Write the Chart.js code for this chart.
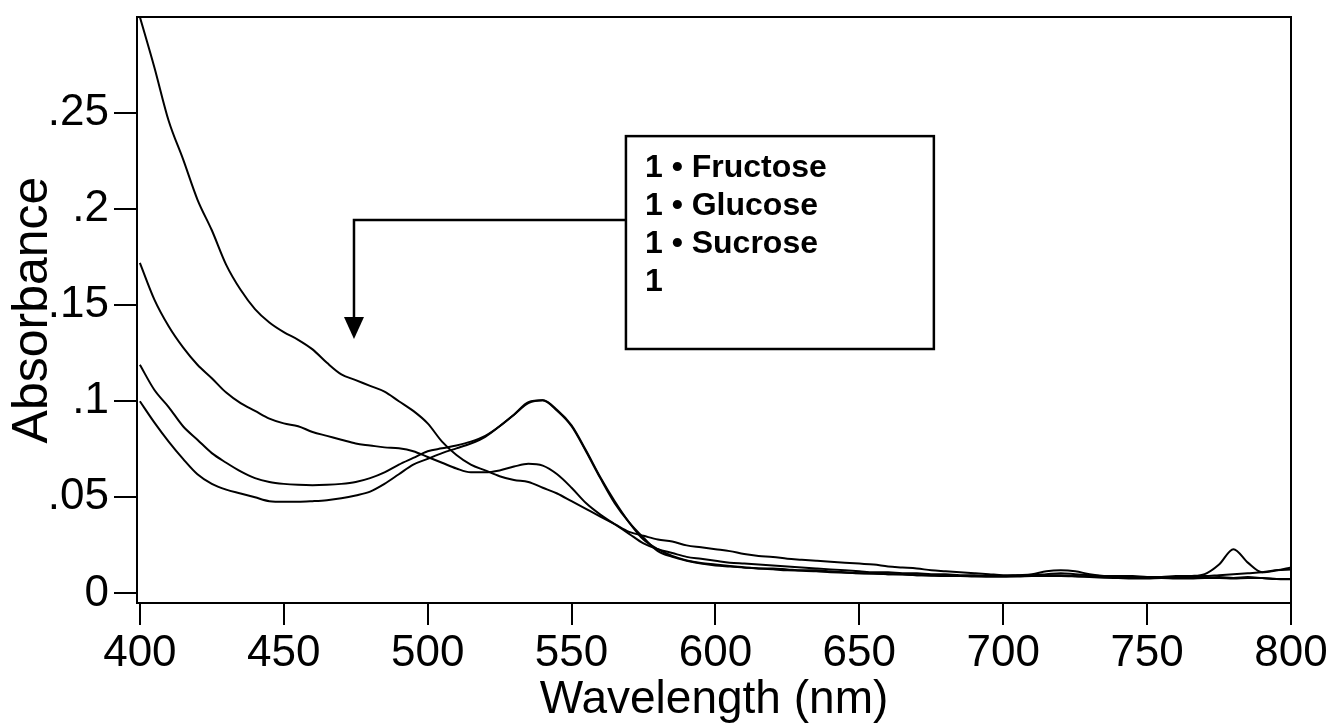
<!DOCTYPE html>
<html>
<head>
<meta charset="utf-8">
<script src="https://cdn.jsdelivr.net/npm/chart.js@4.4.0/dist/chart.umd.min.js"></script>
<style>
html,body{margin:0;padding:0;background:#fff;}
#wrap{width:1331px;height:728px;position:relative;}
</style>
</head>
<body>
<div id="wrap"><canvas id="c" width="1331" height="728"></canvas></div>
<script>
// ---- data ----
const wavelengths = [
  400,405,410,415,420,425,430,435,440,445,
  450,455,460,465,470,475,480,485,490,495,
  500,505,510,515,520,525,530,535,540,545,
  550,555,560,565,570,575,580,585,590,595,
  600,605,610,615,620,625,630,635,640,645,
  650,655,660,665,670,675,680,685,690,695,
  700,705,710,715,720,725,730,735,740,745,
  750,755,760,765,770,775,780,785,790,795,
  800
];
const seriesA = [
  0.300,0.274,0.246,0.226,0.205,0.189,0.171,0.158,0.148,0.141,
  0.136,0.132,0.127,0.120,0.114,0.111,0.108,0.105,0.100,0.095,
  0.0885,0.079,0.072,0.067,0.064,0.061,0.059,0.058,0.055,0.052,
  0.048,0.044,0.040,0.036,0.032,0.030,0.028,0.027,0.025,0.024,
  0.023,0.022,0.0205,0.0195,0.019,0.018,0.0175,0.017,0.0165,0.016,
  0.0155,0.015,0.014,0.0135,0.013,0.012,0.0115,0.011,0.0105,0.010,
  0.0095,0.0095,0.0095,0.010,0.0105,0.010,0.0095,0.009,0.009,0.009,
  0.0085,0.0085,0.009,0.009,0.009,0.0095,0.010,0.0105,0.011,0.012,
  0.0125
];
const seriesB = [
  0.172,0.153,0.139,0.128,0.119,0.112,0.1045,0.099,0.095,0.091,
  0.0885,0.087,0.084,0.082,0.080,0.078,0.077,0.076,0.0755,0.074,
  0.071,0.068,0.065,0.063,0.063,0.064,0.066,0.0675,0.0665,0.062,
  0.055,0.047,0.041,0.036,0.031,0.026,0.023,0.021,0.019,0.018,
  0.017,0.016,0.0155,0.015,0.0145,0.014,0.0135,0.013,0.0125,0.012,
  0.0115,0.011,0.011,0.0105,0.0105,0.010,0.010,0.0095,0.0095,0.009,
  0.009,0.0095,0.010,0.0115,0.012,0.0115,0.010,0.009,0.0085,0.008,
  0.008,0.0085,0.008,0.008,0.008,0.0085,0.008,0.0085,0.008,0.0075,
  0.0075
];
const seriesC = [
  0.119,0.106,0.097,0.087,0.080,0.073,0.068,0.0635,0.060,0.058,
  0.057,0.0565,0.0563,0.0565,0.057,0.058,0.060,0.063,0.067,0.0705,
  0.074,0.0755,0.077,0.079,0.082,0.087,0.093,0.0995,0.1005,0.095,
  0.087,0.074,0.060,0.047,0.037,0.029,0.022,0.019,0.017,0.0155,
  0.0145,0.014,0.0135,0.013,0.013,0.0125,0.012,0.012,0.0115,0.011,
  0.0105,0.0105,0.010,0.010,0.0095,0.0095,0.009,0.009,0.009,0.0088,
  0.0088,0.009,0.009,0.0095,0.0095,0.009,0.0088,0.0085,0.0085,0.0082,
  0.0082,0.0085,0.0085,0.009,0.010,0.015,0.023,0.016,0.011,0.012,
  0.0135
];
const seriesD = [
  0.100,0.089,0.079,0.070,0.062,0.057,0.054,0.052,0.050,0.048,
  0.0477,0.0477,0.048,0.0485,0.0495,0.051,0.053,0.057,0.062,0.067,
  0.070,0.073,0.0755,0.078,0.0815,0.087,0.093,0.099,0.1005,0.0955,
  0.0875,0.0745,0.0605,0.048,0.037,0.028,0.023,0.0195,0.0172,0.0158,
  0.015,0.0142,0.0135,0.013,0.0125,0.012,0.0118,0.0115,0.011,0.0108,
  0.0105,0.0102,0.010,0.0098,0.0095,0.0092,0.009,0.009,0.0088,0.0088,
  0.0088,0.0088,0.009,0.009,0.009,0.0088,0.0085,0.0082,0.008,0.0078,
  0.0078,0.008,0.0078,0.0078,0.008,0.008,0.0078,0.008,0.008,0.0075,
  0.0073
];
const seriesNames = ['Fructose','Glucose','Sucrose','Control'];
const xTickValues = [400,450,500,550,600,650,700,750,800];
const yTickValues = [0,0.05,0.1,0.15,0.2,0.25];
const yTickLabels = ['0','.05','.1','.15','.2','.25'];
const legendLabels = ['1 \u2022 Fructose','1 \u2022 Glucose','1 \u2022 Sucrose','1'];

// annotation anchors in data units
const legendBox = {x0: 568.9, x1: 675.9, yTop: 0.238, yBottom: 0.1272};
const leader = {x: 474.4, y: 0.1944, headTop: 0.1439, tip: 0.1324};

const FONT = '"Liberation Sans", Arial, Helvetica, sans-serif';

const series = [seriesA, seriesB, seriesC, seriesD];
const datasets = series.map((s, i) => ({
  label: seriesNames[i],
  data: wavelengths.map((w, j) => ({x: w, y: s[j]})),
  borderColor: '#000',
  borderWidth: 2,
  pointRadius: 0,
  fill: false,
  cubicInterpolationMode: 'monotone'
}));

const framePlugin = {
  id: 'frameAndLegend',
  afterDraw(chart) {
    const {ctx, chartArea: a, scales: {x, y}} = chart;
    ctx.save();
    ctx.strokeStyle = '#000';
    ctx.lineWidth = 2;
    // top and right frame
    ctx.beginPath();
    ctx.moveTo(a.left, a.top);
    ctx.lineTo(a.right, a.top);
    ctx.lineTo(a.right, a.bottom);
    ctx.stroke();

    // legend box
    const bx0 = x.getPixelForValue(legendBox.x0);
    const bx1 = x.getPixelForValue(legendBox.x1);
    const by0 = y.getPixelForValue(legendBox.yTop);
    const by1 = y.getPixelForValue(legendBox.yBottom);
    ctx.fillStyle = '#fff';
    ctx.fillRect(bx0, by0, bx1 - bx0, by1 - by0);
    ctx.lineWidth = 2.5;
    ctx.strokeRect(bx0, by0, bx1 - bx0, by1 - by0);

    ctx.fillStyle = '#000';
    ctx.font = 'bold 32px ' + FONT;
    ctx.textAlign = 'left';
    ctx.textBaseline = 'alphabetic';
    legendLabels.forEach((t, i) => {
      ctx.fillText(t, bx0 + 19, by0 + 41 + i * 38);
    });

    // leader line with arrow
    const lx = x.getPixelForValue(leader.x);
    const ly = y.getPixelForValue(leader.y);
    const hTop = y.getPixelForValue(leader.headTop);
    const tip = y.getPixelForValue(leader.tip);
    ctx.lineWidth = 2.5;
    ctx.beginPath();
    ctx.moveTo(bx0, ly);
    ctx.lineTo(lx, ly);
    ctx.lineTo(lx, hTop);
    ctx.stroke();
    ctx.beginPath();
    ctx.moveTo(lx - 10, hTop);
    ctx.lineTo(lx + 10, hTop);
    ctx.lineTo(lx, tip);
    ctx.closePath();
    ctx.fill();
    ctx.restore();
  }
};

new Chart(document.getElementById('c'), {
  type: 'line',
  data: {datasets},
  options: {
    responsive: false,
    animation: false,
    events: [],
    layout: {padding: {left: 0, right: 40, top: 17, bottom: 0}},
    plugins: {legend: {display: false}, tooltip: {enabled: false}},
    scales: {
      x: {
        type: 'linear',
        min: 399,
        max: 800,
        afterBuildTicks(s) { s.ticks = xTickValues.map(v => ({value: v})); },
        afterFit(s) { s.height = 125; s.paddingLeft = 0; s.paddingRight = 0; },
        grid: {display: true, drawOnChartArea: false, drawTicks: true, tickLength: 22, color: '#000', lineWidth: 2},
        border: {display: true, color: '#000', width: 2},
        ticks: {color: '#000', font: {family: FONT, size: 44}, padding: 2, maxRotation: 0, autoSkip: false,
                callback: v => String(v)},
        title: {display: true, text: 'Wavelength (nm)', color: '#000', font: {family: FONT, size: 46},
                padding: {top: 0, bottom: 0}}
      },
      y: {
        type: 'linear',
        min: -0.005,
        max: 0.3,
        afterBuildTicks(s) { s.ticks = yTickValues.map(v => ({value: v})); },
        afterFit(s) { s.width = 137; s.paddingTop = 0; s.paddingBottom = 0; },
        grid: {display: true, drawOnChartArea: false, drawTicks: true, tickLength: 23, color: '#000', lineWidth: 2},
        border: {display: true, color: '#000', width: 2},
        ticks: {color: '#000', font: {family: FONT, size: 44}, padding: 5, autoSkip: false,
                callback: (v) => { const i = yTickValues.indexOf(v); return i >= 0 ? yTickLabels[i] : ''; }},
        title: {display: true, text: 'Absorbance', color: '#000', font: {family: FONT, size: 50},
                padding: {top: 3, bottom: 0}}
      }
    }
  },
  plugins: [framePlugin]
});
</script>
</body>
</html>
